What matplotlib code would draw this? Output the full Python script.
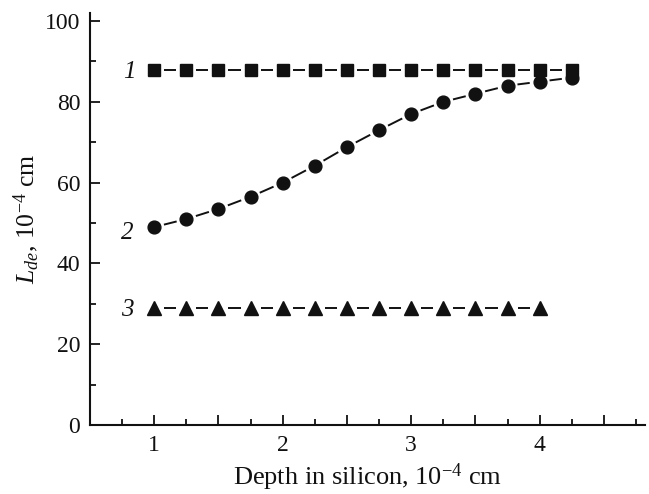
import matplotlib
matplotlib.use("Agg")
import matplotlib.pyplot as plt
import numpy as np
from matplotlib.ticker import MultipleLocator, FuncFormatter

plt.rcParams['font.family'] = ['Liberation Serif', 'DejaVu Serif']
plt.rcParams['mathtext.fontset'] = 'custom'
plt.rcParams['mathtext.rm'] = 'Liberation Serif'
plt.rcParams['mathtext.it'] = 'Liberation Serif:italic'

# Data
x1 = [1.0, 1.25, 1.5, 1.75, 2.0, 2.25, 2.5, 2.75, 3.0, 3.25, 3.5, 3.75, 4.0, 4.25]
y1 = [88] * 14
x2 = [1.0, 1.25, 1.5, 1.75, 2.0, 2.25, 2.5, 2.75, 3.0, 3.25, 3.5, 3.75, 4.0, 4.25]
y2 = [49, 51, 53.5, 56.5, 60, 64.2, 68.8, 73, 77, 80, 82, 84, 85, 86]
x3 = [1.0, 1.25, 1.5, 1.75, 2.0, 2.25, 2.5, 2.75, 3.0, 3.25, 3.5, 3.75, 4.0]
y3 = [29] * 13
curve_labels = ['1', '2', '3']
label_pos = [(0.81, 87.5), (0.79, 47.5), (0.79, 28.4)]

fig = plt.figure(figsize=(6.49, 4.94), dpi=100)
ax = fig.add_axes([90/649, 69/494, 555/649, 412/494])
ax.set_xlim(0.5, 4.82)
ax.set_ylim(0, 102)

col = '#111111'

def dashed_between(xs, ys, gap_px):
    pts = ax.transData.transform(np.column_stack([xs, ys]))
    inv = ax.transData.inverted()
    for p, q in zip(pts[:-1], pts[1:]):
        d = q - p
        L = np.hypot(*d)
        if L <= 2 * gap_px:
            continue
        a = p + d * (gap_px / L)
        b = q - d * (gap_px / L)
        da, db = inv.transform([a, b])
        ax.plot([da[0], db[0]], [da[1], db[1]], color=col, linewidth=1.4,
                solid_capstyle='butt')

for xs, ys, m, ms, g in [(x1, y1, 's', 8.6, 10), (x2, y2, 'o', 9.2, 10), (x3, y3, '^', 10.5, 10)]:
    dashed_between(xs, ys, g)
    ax.plot(xs, ys, linestyle='none', marker=m, markersize=ms, color=col)

for t, (lx, ly) in zip(curve_labels, label_pos):
    ax.text(lx, ly, t, fontsize=18, style='italic', ha='center', va='center', color=col)

ax.xaxis.set_major_locator(MultipleLocator(0.5))
ax.xaxis.set_minor_locator(MultipleLocator(0.25))
ax.xaxis.set_major_formatter(FuncFormatter(lambda v, p: f"{int(round(v))}" if abs(v - round(v)) < 1e-6 and v > 0.9 else ""))
ax.yaxis.set_major_locator(MultipleLocator(20))
ax.yaxis.set_minor_locator(MultipleLocator(10))

for s in ['top', 'right']:
    ax.spines[s].set_visible(False)
for s in ['left', 'bottom']:
    ax.spines[s].set_linewidth(1.5)
    ax.spines[s].set_color(col)

ax.tick_params(which='major', direction='in', length=7, width=1.3, labelsize=17, colors=col, pad=7)
ax.tick_params(which='minor', direction='in', length=4, width=1.3, colors=col)

ax.set_xlabel('Depth in silicon, 10$^{-4}$ cm', fontsize=19, color=col, labelpad=4)
ax.set_ylabel('$L_{de}$, 10$^{-4}$ cm', fontsize=18.5, color=col, labelpad=3)

fig.savefig('out.png', dpi=100)
